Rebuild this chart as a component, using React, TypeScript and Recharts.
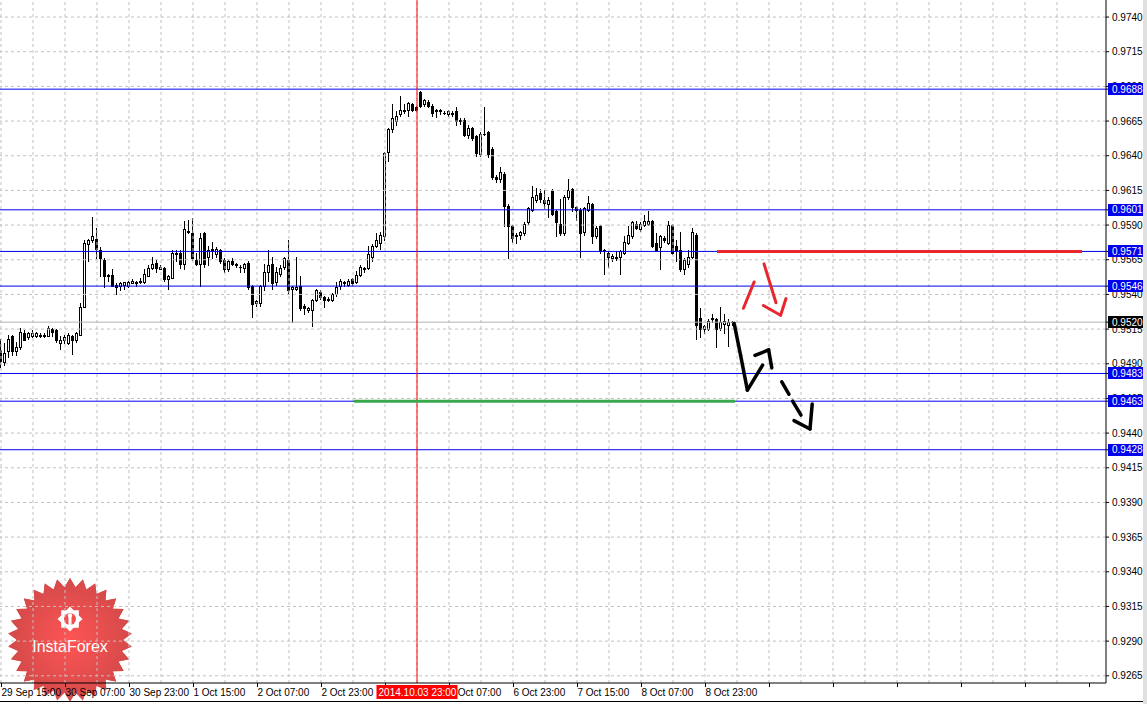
import React from "react";
import { Bar, ComposedChart, Customized, ReferenceLine, XAxis, YAxis } from "recharts";

// H1 candles, 29 Sep 15:00 .. 9 Oct 06:00
const open = [
  0.95, 0.9491, 0.9499, 0.951, 0.9499, 0.9502, 0.9512, 0.9509, 0.951, 0.951,
  0.9511, 0.9511, 0.951, 0.9515, 0.9514, 0.9505, 0.9507, 0.9505, 0.951, 0.9507,
  0.9511, 0.9531, 0.9576, 0.9579, 0.958, 0.9572, 0.9565, 0.9554, 0.9554, 0.9547,
  0.9546, 0.9547, 0.9546, 0.9548, 0.9549, 0.9549, 0.9549, 0.9553, 0.9559, 0.9563,
  0.9558, 0.9559, 0.9551, 0.9552, 0.957, 0.957, 0.9562, 0.9585, 0.9584, 0.9565,
  0.9562, 0.9584, 0.9567, 0.9573, 0.9569, 0.9572, 0.9565, 0.9558, 0.9564, 0.9562,
  0.956, 0.9559, 0.9563, 0.9546, 0.9534, 0.9534, 0.9546, 0.9556, 0.9562, 0.9549,
  0.9555, 0.956, 0.9565, 0.9544, 0.9544, 0.9546, 0.9532, 0.9529, 0.9529, 0.9536,
  0.9542, 0.9538, 0.9537, 0.9536, 0.954, 0.9546, 0.9548, 0.9547, 0.9551, 0.9549,
  0.9554, 0.9558, 0.9559, 0.9567, 0.9575, 0.9577, 0.9582, 0.9643, 0.9659, 0.9665,
  0.967, 0.9672, 0.9673, 0.9677, 0.9675, 0.9686, 0.9677, 0.9679, 0.9676, 0.9673,
  0.9672, 0.9671, 0.967, 0.9671, 0.9672, 0.9665, 0.9666, 0.9655, 0.966, 0.9654,
  0.9641, 0.9656, 0.9657, 0.9645, 0.9625, 0.9623, 0.9627, 0.9604, 0.9589, 0.9582,
  0.9583, 0.9584, 0.9592, 0.9601, 0.9608, 0.9613, 0.9608, 0.9605, 0.9615, 0.96,
  0.9591, 0.9584, 0.961, 0.9616, 0.9603, 0.9601, 0.9585, 0.9601, 0.9605, 0.9582,
  0.9589, 0.9572, 0.957, 0.9566, 0.9567, 0.9567, 0.957, 0.9577, 0.9582, 0.9591,
  0.9587, 0.959, 0.9591, 0.9593, 0.9577, 0.9574, 0.9581, 0.9577, 0.959, 0.9575,
  0.9572, 0.9558, 0.9562, 0.9567, 0.9583, 0.9523, 0.9515, 0.9515, 0.9522, 0.9522,
  0.9516, 0.9519, 0.9518, 0.952,
];
const high = [
  0.9508, 0.9505, 0.9511, 0.9511, 0.9506, 0.9516, 0.9514, 0.9513, 0.9514, 0.9513,
  0.9512, 0.9512, 0.9517, 0.9516, 0.9515, 0.951, 0.9511, 0.9512, 0.9511, 0.9513,
  0.9534, 0.9579, 0.958, 0.9596, 0.9588, 0.9574, 0.9566, 0.9555, 0.9558, 0.9548,
  0.9549, 0.9549, 0.955, 0.9551, 0.955, 0.9552, 0.9558, 0.9561, 0.9567, 0.9565,
  0.9561, 0.956, 0.9554, 0.9572, 0.9572, 0.9572, 0.9593, 0.9594, 0.9595, 0.957,
  0.9584, 0.9585, 0.9575, 0.9578, 0.9574, 0.9573, 0.9566, 0.9565, 0.9566, 0.9563,
  0.9561, 0.9563, 0.9564, 0.9547, 0.9536, 0.9547, 0.9562, 0.9572, 0.9567, 0.956,
  0.9561, 0.9567, 0.9579, 0.9546, 0.9567, 0.9553, 0.9533, 0.9531, 0.9537, 0.9544,
  0.9543, 0.9539, 0.9538, 0.9541, 0.9549, 0.9551, 0.955, 0.9551, 0.9552, 0.9557,
  0.9561, 0.956, 0.9575, 0.9576, 0.9584, 0.9585, 0.9643, 0.966, 0.9677, 0.9672,
  0.9683, 0.9677, 0.9679, 0.9678, 0.9676, 0.9687, 0.9681, 0.968, 0.9677, 0.9674,
  0.9674, 0.9672, 0.9673, 0.9672, 0.9675, 0.9667, 0.9667, 0.9662, 0.9661, 0.9655,
  0.9657, 0.9675, 0.9658, 0.9646, 0.9626, 0.9632, 0.9628, 0.9605, 0.959, 0.9584,
  0.9586, 0.9592, 0.9603, 0.9618, 0.9617, 0.9616, 0.9615, 0.961, 0.9616, 0.9601,
  0.9609, 0.9612, 0.9623, 0.9617, 0.9604, 0.9602, 0.9603, 0.9611, 0.9606, 0.9589,
  0.959, 0.9573, 0.9571, 0.9569, 0.9571, 0.9572, 0.9582, 0.9589, 0.9593, 0.9593,
  0.9592, 0.9597, 0.96, 0.9594, 0.9584, 0.9583, 0.9582, 0.9593, 0.9591, 0.9579,
  0.9585, 0.9566, 0.9572, 0.9588, 0.9584, 0.953, 0.9518, 0.9522, 0.9526, 0.9523,
  0.9531, 0.9526, 0.9522, 0.9521,
];
const low = [
  0.9488, 0.9489, 0.9495, 0.9496, 0.9496, 0.9501, 0.9507, 0.9508, 0.9509, 0.9509,
  0.9509, 0.9509, 0.951, 0.951, 0.9506, 0.9501, 0.9505, 0.9504, 0.9497, 0.9506,
  0.9511, 0.9531, 0.9564, 0.9578, 0.9566, 0.9553, 0.9545, 0.955, 0.9546, 0.954,
  0.9543, 0.9544, 0.9545, 0.9548, 0.9546, 0.9548, 0.9548, 0.9553, 0.9558, 0.9556,
  0.9558, 0.955, 0.9544, 0.9552, 0.9564, 0.9559, 0.9558, 0.9584, 0.9565, 0.9561,
  0.9546, 0.956, 0.9561, 0.9566, 0.9567, 0.9563, 0.9556, 0.9557, 0.9561, 0.956,
  0.9556, 0.9556, 0.9544, 0.9524, 0.9532, 0.9532, 0.9543, 0.955, 0.9544, 0.9547,
  0.9553, 0.9558, 0.954, 0.952, 0.9543, 0.9529, 0.9526, 0.9527, 0.9517, 0.9535,
  0.9537, 0.9531, 0.9535, 0.9535, 0.9539, 0.9544, 0.9546, 0.9546, 0.9547, 0.9548,
  0.9553, 0.9556, 0.9558, 0.9564, 0.9574, 0.9573, 0.9579, 0.9636, 0.9657, 0.9662,
  0.9669, 0.9671, 0.9669, 0.9672, 0.9672, 0.9675, 0.9676, 0.9675, 0.9669, 0.9668,
  0.967, 0.967, 0.9669, 0.9669, 0.9662, 0.9663, 0.9654, 0.9653, 0.9651, 0.964,
  0.964, 0.9655, 0.9639, 0.9623, 0.9621, 0.9621, 0.9589, 0.9566, 0.9578, 0.9577,
  0.958, 0.9583, 0.9591, 0.96, 0.9607, 0.9607, 0.9602, 0.9596, 0.9597, 0.9582,
  0.9583, 0.9583, 0.9609, 0.96, 0.9594, 0.9567, 0.9583, 0.96, 0.9577, 0.9581,
  0.957, 0.9555, 0.956, 0.9564, 0.9565, 0.9555, 0.9569, 0.9576, 0.9581, 0.9587,
  0.9586, 0.9589, 0.959, 0.9574, 0.9571, 0.9558, 0.9578, 0.9576, 0.9569, 0.9564,
  0.9557, 0.9555, 0.956, 0.9566, 0.9508, 0.9509, 0.9512, 0.9514, 0.952, 0.9502,
  0.9514, 0.9512, 0.9503, 0.9518,
];
const close = [
  0.9492, 0.9498, 0.9508, 0.9499, 0.9502, 0.9513, 0.9507, 0.9512, 0.9512, 0.9512,
  0.951, 0.951, 0.9516, 0.9513, 0.9507, 0.9507, 0.9509, 0.9511, 0.9507, 0.9512,
  0.9531, 0.9577, 0.9579, 0.9582, 0.9573, 0.9566, 0.9553, 0.9553, 0.9546, 0.9545,
  0.9548, 0.9549, 0.9549, 0.955, 0.9548, 0.955, 0.9555, 0.9559, 0.9562, 0.9559,
  0.956, 0.9551, 0.9553, 0.957, 0.9569, 0.9562, 0.9587, 0.9586, 0.9566, 0.9562,
  0.9581, 0.9562, 0.9572, 0.9572, 0.9573, 0.9564, 0.9558, 0.9564, 0.9562, 0.9561,
  0.956, 0.9562, 0.9545, 0.9533, 0.9535, 0.9546, 0.9556, 0.9561, 0.9548, 0.9556,
  0.9559, 0.9566, 0.9543, 0.9545, 0.9545, 0.953, 0.953, 0.953, 0.9536, 0.9543,
  0.9538, 0.9536, 0.9536, 0.954, 0.9545, 0.955, 0.9549, 0.955, 0.9548, 0.9554,
  0.956, 0.9559, 0.9569, 0.9575, 0.9579, 0.9583, 0.9642, 0.9659, 0.9667, 0.9669,
  0.9673, 0.9673, 0.9678, 0.9673, 0.9673, 0.9676, 0.968, 0.9676, 0.9671, 0.9672,
  0.9673, 0.9671, 0.9672, 0.967, 0.9665, 0.9666, 0.9655, 0.966, 0.9653, 0.9642,
  0.9656, 0.9656, 0.9641, 0.9625, 0.9623, 0.9628, 0.9604, 0.9589, 0.9581, 0.9583,
  0.9585, 0.9591, 0.9602, 0.961, 0.9612, 0.9609, 0.9606, 0.9608, 0.9598, 0.9592,
  0.9584, 0.961, 0.9615, 0.9603, 0.9601, 0.9584, 0.9602, 0.9606, 0.9582, 0.9588,
  0.9571, 0.9571, 0.9567, 0.9568, 0.9566, 0.9571, 0.9578, 0.9583, 0.9592, 0.9588,
  0.9591, 0.9593, 0.9593, 0.9575, 0.9572, 0.9582, 0.9579, 0.959, 0.957, 0.9571,
  0.9558, 0.9565, 0.9567, 0.9585, 0.9518, 0.9515, 0.9517, 0.9521, 0.9523, 0.9515,
  0.952, 0.9521, 0.952, 0.952,
];

// one label every 16 bars, no labels in the empty future area
const timeLabels = [
  "29 Sep 15:00", "30 Sep 07:00", "30 Sep 23:00", "1 Oct 15:00", "2 Oct 07:00", "2 Oct 23:00",
  "3 Oct 15:00", "6 Oct 07:00", "6 Oct 23:00", "7 Oct 15:00", "8 Oct 07:00", "8 Oct 23:00",
];
const priceTicks = [
  0.9265, 0.929, 0.9315, 0.934, 0.9365, 0.939, 0.9415, 0.944, 0.9465, 0.949,
  0.9515, 0.954, 0.9565, 0.959, 0.9615, 0.964, 0.9665, 0.969, 0.9715, 0.974,
];
const levels = [0.9688, 0.9601, 0.9571, 0.9546, 0.9483, 0.9463, 0.9428];
const lastPrice = 0.952;
const cursorBar = 104;
const cursorText = "2014.10.03 23:00";

const resistance = { level: 0.9571, from: 179, to: 270.25 };
const support = { level: 0.9463, from: 88.25, to: 183.5 };

// hand-drawn arrows, [bar index, price]
const redMarks = [
  [[185.6, 0.953], [188.3, 0.9549]],
  [[190.75, 0.9562], [193.75, 0.9534]],
  [[190.6, 0.9532], [194.9, 0.9525], [196.25, 0.9537]],
];
const blackMarks = [
  [[183.3, 0.9519], [184.9, 0.9496], [186.6, 0.9471], [190.4, 0.9489]],
  [[188.5, 0.9496], [191.9, 0.95], [192.7, 0.9487]],
];
const dashedMarks = [
  [[195.2, 0.9477], [197, 0.9468]],
  [[197.9, 0.9463], [200, 0.9453]],
  [[198.25, 0.9449], [202.25, 0.9443], [202.8, 0.9461]],
];

const candles = open.map((o, i) => ({ i, open: o, high: high[i], low: low[i], close: close[i] }));

const LAST_SLOT = 276;
const xTicks = [...Array.from({ length: LAST_SLOT / 16 + 1 }, (_, k) => k * 16), cursorBar];
const gridX = Array.from({ length: LAST_SLOT / 8 }, (_, k) => k * 8);
const yTicks = [...priceTicks, ...levels, lastPrice];

const FONT = "'Liberation Sans', Arial, sans-serif";
const BLUE = "#0000ee";
const AXIS_Y = 683;

function Candle(props: any) {
  const { x, y, width, height, payload } = props;
  if (!payload || height == null) return null;
  const span = payload.high - payload.low;
  const k = span > 0 ? height / span : 0;
  const cx = Math.floor(x + width / 2) + 0.5;
  const yOf = (v: number) => y + (payload.high - v) * k;
  const top = Math.round(yOf(Math.max(payload.open, payload.close))) + 0.5;
  const bot = Math.round(yOf(Math.min(payload.open, payload.close))) + 0.5;
  const bull = payload.close >= payload.open;
  return (
    <g shapeRendering="crispEdges">
      <line x1={cx} x2={cx} y1={Math.round(y)} y2={Math.round(y + height) + 1} stroke="#000" />
      {bot - top < 1 ? (
        <line x1={cx - 1.5} x2={cx + 1.5} y1={top} y2={top} stroke="#000" />
      ) : (
        <rect x={cx - 1} y={top} width={2} height={bot - top} fill={bull ? "#fff" : "#000"} stroke="#000" />
      )}
    </g>
  );
}

function TimeTick(props: any) {
  const { x, y, payload } = props;
  const v = payload.value as number;
  const px = Math.floor(x) + 0.5;
  if (v === cursorBar) {
    return (
      <g>
        <rect x={px - 41} y={y - 2} width={81} height={14} fill="#ff0000" />
        <text x={px} y={y + 9} textAnchor="middle" fill="#fff" fontSize={10} fontFamily={FONT}>
          {cursorText}
        </text>
      </g>
    );
  }
  const label = timeLabels[v / 16];
  return (
    <g>
      <line x1={px} x2={px} y1={y - 4} y2={y} stroke="#000" shapeRendering="crispEdges" />
      {label && (
        <text x={px} y={y + 9} textAnchor="start" fill="#000" fontSize={10} fontFamily={FONT}>
          {label}
        </text>
      )}
    </g>
  );
}

function PriceTick(props: any) {
  const { x, y, payload } = props;
  const v = payload.value as number;
  const tagged = v === lastPrice || levels.includes(v);
  return (
    <g>
      {tagged && (
        <rect x={x - 4} y={Math.round(y) - 6} width={37} height={12} fill={v === lastPrice ? "#000" : BLUE} />
      )}
      <text x={x} y={y + 3.5} fill={tagged ? "#fff" : "#000"} fontSize={10} fontFamily={FONT}>
        {v.toFixed(4)}
      </text>
    </g>
  );
}

function strokes(marks: number[][][], color: string, width: number, dash?: string) {
  return marks.flatMap((pts, m) =>
    pts.slice(1).map((p, k) => (
      <ReferenceLine
        key={`${color}-${m}-${k}-${dash ?? ""}`}
        segment={[
          { x: pts[k][0], y: pts[k][1] },
          { x: p[0], y: p[1] },
        ]}
        stroke={color}
        strokeWidth={width}
        strokeLinecap="round"
        strokeDasharray={dash}
      />
    ))
  );
}

// broker watermark, bottom-left corner
const SEAL_X = 70;
const SEAL_Y = 640;

function sealPoints() {
  const n = 30;
  return Array.from({ length: n * 2 }, (_, k) => {
    const r = k % 2 === 0 ? 62 : 53;
    const a = (k * Math.PI) / n - Math.PI / 2;
    return `${(SEAL_X + r * Math.cos(a)).toFixed(1)},${(SEAL_Y + r * Math.sin(a)).toFixed(1)}`;
  }).join(" ");
}

function SealShape({ id }: { id: string }) {
  return (
    <>
      <defs>
        <radialGradient id={id} cx="50%" cy="50%" r="50%">
          <stop offset="0%" stopColor="#ff5454" />
          <stop offset="100%" stopColor="#d44a4a" />
        </radialGradient>
      </defs>
      <polygon points={sealPoints()} fill={`url(#${id})`} />
    </>
  );
}

// upper part, drawn over the grid inside the plot
function SealFront() {
  const cx = SEAL_X;
  const gy = SEAL_Y - 21;
  const teeth = Array.from({ length: 16 }, (_, k) => {
    const r = k % 2 === 0 ? 12.5 : 9.5;
    const a = (k * Math.PI) / 8;
    return `${(cx + r * Math.cos(a)).toFixed(1)},${(gy + r * Math.sin(a)).toFixed(1)}`;
  }).join(" ");
  return (
    <g>
      <defs>
        <clipPath id="sealClip">
          <rect x={0} y={0} width={200} height={AXIS_Y} />
        </clipPath>
      </defs>
      <g clipPath="url(#sealClip)">
        <SealShape id="sealFront" />
      </g>
      <polygon points={teeth} fill="#fff" />
      <circle cx={cx} cy={gy} r={6} fill="#f05050" />
      <circle cx={cx} cy={gy - 3.5} r={2.2} fill="#fff" />
      <rect x={cx - 1.5} y={gy - 2} width={3} height={13} fill="#fff" />
      <text x={cx} y={SEAL_Y + 12} textAnchor="middle" fill="#fff" fontSize={16} fontFamily={FONT}>
        InstaForex
      </text>
    </g>
  );
}

export default function App() {
  return (
    <div
      style={{
        position: "absolute",
        left: 0,
        top: 0,
        width: 1147,
        height: 704,
        background: "#fff",
        overflow: "hidden",
        fontFamily: FONT,
      }}
    >
      {/* lower part of the watermark sits behind the time labels */}
      <svg width={1147} height={704} style={{ position: "absolute", left: 0, top: 0 }}>
        <SealShape id="sealBack" />
      </svg>
      <div style={{ position: "absolute", left: 0, top: 0 }}>
        <ComposedChart width={1147} height={704} data={candles} margin={{ top: 0, right: 0, bottom: 0, left: 0 }}>
          {gridX.map((g) => (
            <ReferenceLine key={`gx${g}`} x={g} stroke="#c0c0c0" strokeDasharray="3 3" />
          ))}
          {priceTicks.map((p) => (
            <ReferenceLine key={`gy${p}`} y={p} stroke="#c0c0c0" strokeDasharray="3 3" />
          ))}
          <ReferenceLine y={lastPrice} stroke="#b4b4b4" />
          {levels.map((lv) => (
            <ReferenceLine key={`lv${lv}`} y={lv} stroke={BLUE} />
          ))}
          <ReferenceLine x={cursorBar} stroke="#ff0000" />
          <Bar
            dataKey={(d: any) => [d.low, d.high]}
            barSize={4}
            shape={<Candle />}
            isAnimationActive={false}
          />
          <ReferenceLine
            segment={[
              { x: resistance.from, y: resistance.level },
              { x: resistance.to, y: resistance.level },
            ]}
            stroke="#e8262e"
            strokeWidth={3}
          />
          <ReferenceLine
            segment={[
              { x: support.from, y: support.level },
              { x: support.to, y: support.level },
            ]}
            stroke="#3aa84c"
            strokeWidth={3}
          />
          {strokes(redMarks, "#e8262e", 3)}
          {strokes(blackMarks, "#000", 3.5)}
          {strokes(dashedMarks, "#000", 3.5)}
          <Customized component={<SealFront />} />
          <XAxis
            type="number"
            dataKey="i"
            domain={[-0.25, LAST_SLOT + 0.25]}
            allowDataOverflow
            ticks={xTicks}
            interval={0}
            tick={<TimeTick />}
            tickLine={false}
            tickSize={4}
            tickMargin={0}
            height={21}
            axisLine={{ stroke: "#000" }}
          />
          <YAxis
            orientation="right"
            type="number"
            domain={[0.92598, 0.97523]}
            allowDataOverflow
            ticks={yTicks}
            interval={0}
            tick={<PriceTick />}
            tickSize={3}
            tickMargin={3}
            tickLine={{ stroke: "#000" }}
            width={41}
            axisLine={{ stroke: "#000" }}
          />
        </ComposedChart>
      </div>
      <div style={{ position: "absolute", left: 0, top: 701, width: 1147, height: 1, background: "#000" }} />
      <div style={{ position: "absolute", left: 1143, top: 0, width: 4, height: 704, background: "#e0e0e0" }} />
    </div>
  );
}
